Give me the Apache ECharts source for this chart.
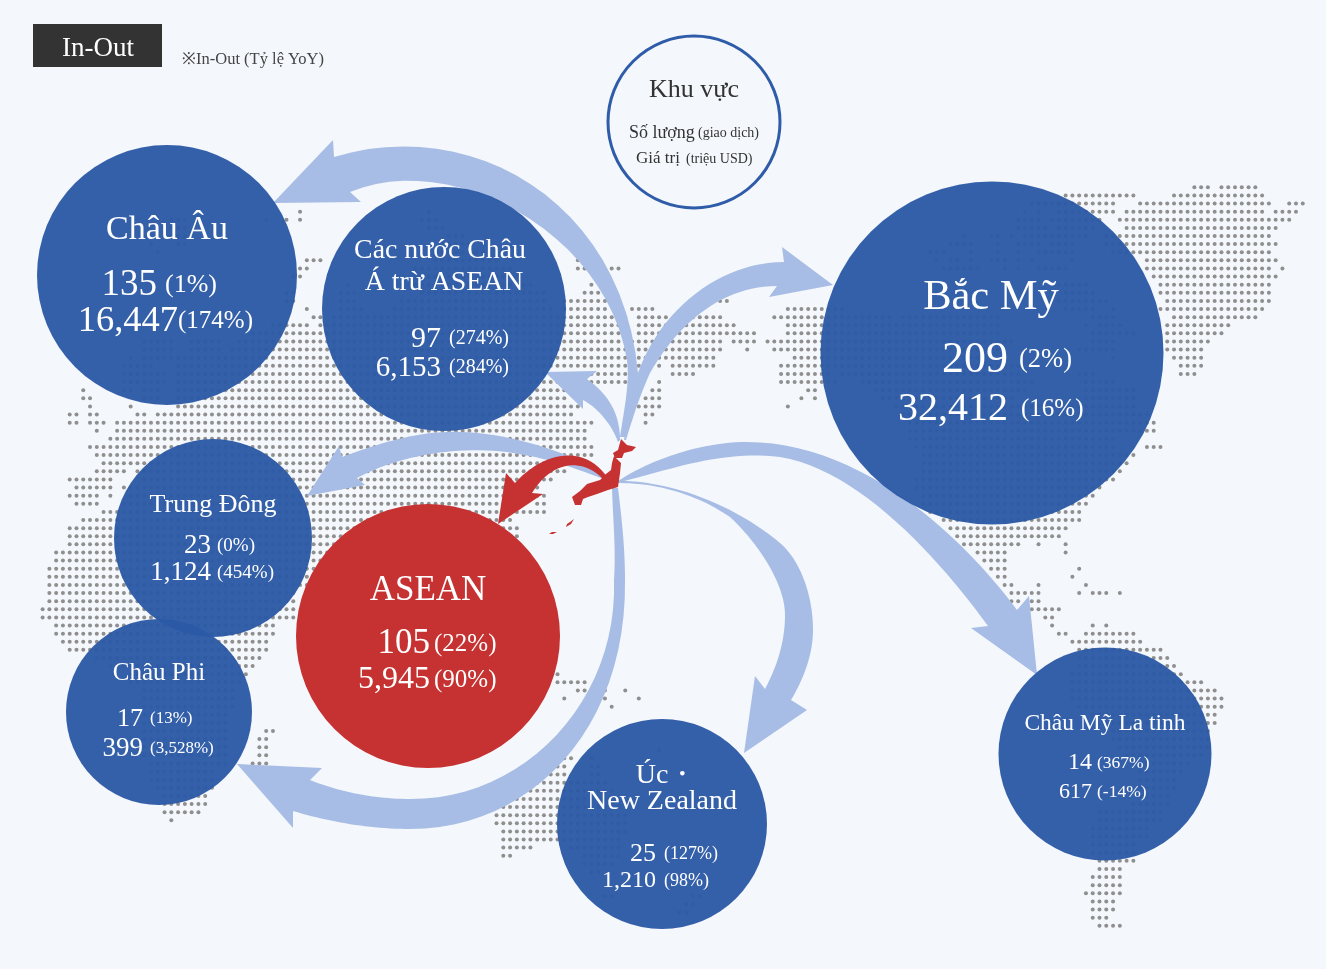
<!DOCTYPE html>
<html><head><meta charset="utf-8">
<style>html,body{margin:0;padding:0;background:#f4f7fb}#c{width:1326px;height:969px}</style>
<script src="https://cdn.jsdelivr.net/npm/echarts@6/dist/echarts.min.js"></script>
</head><body><div id="c"></div>
<script>
// ---------- values ----------
const regionNames = [['Châu Âu'],['Các nước Châu','Á trừ ASEAN'],['Bắc Mỹ'],['Trung Đông'],['Châu Phi'],['ASEAN'],['Úc・','New Zealand'],['Châu Mỹ La tinh']];
const dealCounts  = [135,97,209,23,17,105,25,14];
const dealValues  = [16447,6153,32412,1124,399,5945,1210,617];
const countChange = [1,274,2,0,13,22,127,367];
const valueChange = [174,284,16,454,3528,90,98,-14];
// ---------- layout ----------
const bubbleX = [167,444,992,213,159,428,662,1105];
const bubbleY = [275,309,353,538,712,636,824,754];
const bubbleD = [260,244,343,198,186,264,210,213];
const bubbleFill = ['#2c5aa5','#2c5aa5','#2c5aa5','#2c5aa5','#2c5aa5','#c63131','#2c5aa5','#2c5aa5'];
// title lines: [centerX, centerY, size]
const titleLayout = [[[167,230,34]],[[440,251,27.8],[444,283,27.8]],[[991,298,42.5]],[[213,505,26]],[[159,673,25]],[[428,591,35]],[[666,776,28],[662,802,28]],[[1105,724,23.5]]];
// number line: [rightX, y, numSize, pctX, pctSize]
const countLayout = [[157,285,37,165,26],[441,339,30,449,20],[1008,360,44,1019,26.5],[211,546,27,217,19],[143,719,26,150,17],[430,644,35,434,25],[656,854,26,664,18],[1092,763,24,1097,17.5]];
const valueLayout = [[178,321,36.5,178,25],[441,368,29,449,20],[1008,409,40,1021,25],[211,573,27,217,19],[143,749,27,150,17],[430,680,32,434,25],[656,881,24,664,18],[1092,792,22,1097,17.5]];
// dotted world map: per grid row, pairs of from/to
const dotGrid = {x0:42.6, dx:6.775, y0:187.3, dy:8.115};
const landRuns = [
[1195,1208,1222,1257],
[1066,1135,1174,1263],
[1032,1115,1140,1270,1290,1305],
[301,301,430,430,1027,1027,1040,1040,1060,1115,1127,1263,1277,1298],
[173,187,267,267,287,287,301,301,422,437,1020,1040,1053,1102,1120,1292],
[167,187,430,443,1020,1047,1060,1095,1127,1277],
[167,187,450,463,963,963,993,1000,1013,1013,1027,1047,1053,1088,1107,1270],
[152,152,178,187,443,470,950,967,973,973,997,997,1020,1040,1053,1075,1107,1277],
[158,158,437,483,930,947,972,972,998,998,1020,1020,1040,1075,1113,1270],
[307,323,437,497,578,578,937,937,950,960,973,973,993,1006,1020,1020,1033,1033,1073,1073,1147,1277],
[300,310,417,513,578,585,612,620,943,980,1007,1007,1020,1020,1040,1068,1147,1270,1283,1283],
[293,302,430,520,1153,1277],
[347,347,400,530,592,592,1060,1083,1160,1270],
[287,293,340,353,420,547,585,598,1067,1090,1160,1270],
[287,293,340,353,400,547,565,606,720,727,1060,1103,1167,1270],
[308,308,340,360,395,550,563,606,633,653,788,843,1067,1090,1113,1113,1160,1263],
[313,320,333,627,640,667,693,720,775,890,900,1000,1093,1110,1173,1257],
[273,310,320,627,640,733,785,1000,1087,1087,1100,1123,1167,1230],
[255,627,640,753,788,1000,1093,1135,1167,1223],
[145,173,192,220,240,720,733,753,768,1010,1093,1115,1167,1210],
[145,173,192,220,233,717,747,747,775,785,795,1000,1080,1115,1167,1203],
[132,132,147,173,178,715,795,1000,1113,1113,1173,1203],
[125,153,178,627,640,640,660,660,673,710,782,1020,1180,1203],
[125,167,178,627,673,693,782,830,842,1020,1080,1095,1180,1197],
[125,167,178,625,660,660,782,832,863,1030,1085,1110],
[85,85,125,133,147,160,178,563,653,660,808,818,877,1025,1085,1130],
[85,92,145,160,178,563,645,660,803,803,817,817,883,1010,1085,1135],
[92,92,132,132,178,577,640,660,790,790,893,1135],
[70,78,90,98,138,147,158,573,647,653,900,1150],
[70,78,90,105,118,593,647,647,910,1155],
[98,98,118,587,910,1155],
[112,587,910,917,923,1115],
[92,593,917,917,923,1115,1147,1163],
[98,593,923,1135],
[105,567,923,1128],
[98,127,140,567,923,1120],
[70,113,143,553,917,1110],
[77,107,127,540,917,1100],
[70,100,112,112,133,500,537,547,923,1095],
[77,100,127,500,537,547,923,1087],
[105,545,930,1080],
[83,513,943,1082],
[70,520,952,1068],
[70,517,960,1062],
[70,350,967,1020,1040,1040,1067,1067],
[57,350,978,1007,1067,1067],
[57,350,985,1007],
[50,320,992,1007,1081,1081],
[50,310,998,1007,1074,1074],
[50,305,1005,1013,1040,1040,1087,1087],
[50,290,1012,1040,1081,1081,1094,1108,1121,1121],
[50,290,1012,1020,1032,1040],
[43,290,1033,1060],
[43,290,1047,1053],
[57,273,1053,1053,1094,1094,1108,1108],
[57,273,1060,1067,1088,1135],
[63,268,1073,1142],
[70,80,90,268,1080,1162],
[100,260,1080,1168],
[110,253,1080,1175],
[130,245,558,558,1073,1182],
[130,240,558,585,1073,1203],
[143,235,578,605,626,626,1073,1217],
[143,235,565,565,598,605,639,639,1073,1223],
[143,230,612,612,1080,1223],
[143,225,1093,1217],
[143,225,1107,1217],
[143,225,267,275,1113,1210],
[143,225,260,268,1113,1210],
[143,225,260,268,1120,1210],
[143,225,260,268,1127,1203],
[150,225,253,268,1133,1190],
[150,215,1140,1183],
[150,215,1140,1177],
[157,213,1140,1177],
[162,208,1140,1170],
[165,208,1133,1170],
[165,200,1100,1163],
[172,172,1100,1163],
[1093,1150],
[1093,1150],
[1093,1130],
[1093,1130],
[1100,1130],
[1100,1123],
[1093,1117],
[1093,1117],
[1087,1117],
[1093,1110],
[1093,1110],
[1093,1103],
[1100,1117]
];
// Oceania block sits 3px lower than the rest of the grid; starts at row 69
const oceaniaStartRow = 69, oceaniaShift = 3;
const oceaniaRuns = [
[660,660],[563,573,592,592],[557,567,592,600],[550,567,592,600],[537,607],[530,613],[517,620],[497,620],[497,627],[497,627],[503,627],[503,620],[503,533,570,620],[503,513,583,620],[583,613],[592,600],[],[707,707],[607,613,693,700],[687,693],[680,687]
];
// flow arrows: edge a (tail to head), head points, edge b (head to tail); edges are cubic chains P,c,c,P,c,c,P
const blueArrows = [
 {a:[[626,437],[632,415],[637,395],[638,373],[622,200],[470,115],[334,157]], h:[[333,140],[273,203],[361,202]], b:[[350,192],[450,150],[605,230],[627,360],[630,385],[623,415],[620,437]]},
 {a:[[624,440],[628,415],[633,393],[638,373],[660,310],[720,262],[784,262]], h:[[782,247],[833,285],[769,297]], b:[[777,286],[725,286],[680,320],[650,373],[640,395],[632,420],[626,440]]},
 {a:[[620,440],[620,410],[605,392],[587,379]], h:[[597,371],[545,372],[583,409]], b:[[583,400],[598,408],[612,425],[618,442]]},
 {a:[[618,482],[570,450],[500,430],[447,432],[410,433],[375,445],[342,457]], h:[[339,446],[307,496],[365,485]], b:[[357,478],[400,455],[460,445],[513,453],[560,460],[590,475],[618,484]]},
 {a:[[618,488],[622,520],[625,550],[625,580],[627,730],[530,829],[410,829],[370,829],[330,822],[293,811]], h:[[293,828],[237,764],[322,768]], b:[[310,780],[340,792],[375,799],[410,799],[525,800],[618,700],[614,580],[616,550],[613,520],[612,488]]},
 {a:[[617,481],[670,480],[735,505],[780,543],[800,560],[813,595],[813,630],[813,655],[803,680],[791,700]], h:[[807,710],[744,753],[755,676]], b:[[765,689],[775,670],[785,645],[785,615],[785,585],[760,545],[730,517],[690,490],[650,483],[617,483]]},
 {a:[[618,481],[650,460],[700,442],[747,442],[850,442],[950,520],[1017,610]], h:[[1029,596],[1037,675],[971,628]], b:[[988,626],[940,560],[860,470],[780,457],[720,450],[670,470],[620,482]]}
];
const redArrow = {a:[[607,477],[585,445],[545,450],[515,483]], h:[[506,473],[498,524],[543,494]], b:[[532,493],[555,455],[590,460],[607,484]]};
const japanParts = [
 [[621,439],[627,445],[636,447],[632,451],[624,453],[622,458],[615,458],[613,453],[618,450]],
 [[614,456],[621,463],[620,473],[618,487],[608,490],[597,494],[588,497],[583,499],[581,505],[575,505],[572,497],[580,491],[587,484],[600,480],[606,474],[611,470],[612,463]],
 [[574,519],[571,524],[566,527],[567,524],[570,522]],[[557,532],[553,534],[549,534],[552,532]]
];
const headerBox = [33,24,129,43];
const extraTexts = [
 ['In-Out',98,49,27,'#ffffff','center'],
 ['※In-Out (Tỷ lệ YoY)',182,60,16.5,'#444444','left'],
 ['Khu vực',694,90,26,'#333333','center'],
 ['Số lượng',629,133,18,'#333333','left'],
 ['(giao dịch)',698,133,14,'#333333','left'],
 ['Giá trị',636,159,17,'#333333','left'],
 ['(triệu USD)',686,159,14,'#333333','left']
];
const legendRing = [694,122,172];
// ---------- builders ----------
const FONT = '"Liberation Serif","DejaVu Serif",serif';
function chain(p){
  const out=[];
  for(let i=0;i+3<p.length;i+=3){
    for(let s=0;s<24;s++){
      const t=s/24,u=1-t;
      out.push([0,1].map(k=>u*u*u*p[i][k]+3*u*u*t*p[i+1][k]+3*u*t*t*p[i+2][k]+t*t*t*p[i+3][k]));
    }
  }
  out.push(p[p.length-1]); return out;
}
const arrowPoly = s => chain(s.a).concat(s.h, chain(s.b));
function gridDots(runs,startRow,shift){
  const d=[];
  runs.forEach((r,j)=>{
    for(let k=0;k<r.length;k+=2){
      const i0=Math.round((r[k]-dotGrid.x0)/dotGrid.dx), i1=Math.round((r[k+1]-dotGrid.x0)/dotGrid.dx);
      for(let i=i0;i<=i1;i++) d.push([dotGrid.x0+i*dotGrid.dx, dotGrid.y0+(j+startRow)*dotGrid.dy+shift]);
    }
  });
  return d;
}
const dots = gridDots(landRuns,0,0).concat(gridDots(oceaniaRuns,oceaniaStartRow,oceaniaShift));
const textItems=[];
regionNames.forEach((lines,i)=>{
  lines.forEach((t,l)=>{const q=titleLayout[i][l];textItems.push([t,q[0],q[1],q[2],'#ffffff','center']);});
  const c=countLayout[i],v=valueLayout[i];
  textItems.push([dealCounts[i].toLocaleString('en-US'),c[0],c[1],c[2],'#ffffff','right']);
  textItems.push(['('+countChange[i].toLocaleString('en-US')+'%)',c[3],c[1],c[4],'#ffffff','left']);
  textItems.push([dealValues[i].toLocaleString('en-US'),v[0],v[1],v[2],'#ffffff','right']);
  textItems.push(['('+valueChange[i].toLocaleString('en-US')+'%)',v[3],v[1],v[4],'#ffffff','left']);
});
const allTexts = extraTexts.concat(textItems);
function polySeries(polys,color,z){
  return {type:'custom',coordinateSystem:'cartesian2d',z,silent:true,clip:false,
    data:polys.map((_,i)=>[i,0]),
    encode:{x:0,y:1},
    renderItem:(params,api)=>({type:'polygon',shape:{points:polys[params.dataIndex].map(p=>api.coord(p))},style:{fill:color}})};
}
const chart=echarts.init(document.getElementById('c'),null,{renderer:'canvas'});
chart.setOption({
  animation:false,backgroundColor:'#f4f7fb',
  grid:{left:0,right:0,top:0,bottom:0},
  xAxis:{type:'value',min:0,max:1326,show:false},
  yAxis:{type:'value',min:0,max:969,inverse:true,show:false},
  tooltip:{show:false},
  series:[
    {type:'scatter',z:1,silent:true,data:dots,symbol:'circle',symbolSize:4,itemStyle:{color:'#8f8f8f',opacity:1},progressive:0,large:false},
    polySeries(blueArrows.map(arrowPoly),'#a7bde5',2),
    {type:'scatter',z:3,silent:true,progressive:0,data:bubbleX.map((x,i)=>({value:[x,bubbleY[i]],symbolSize:bubbleD[i],itemStyle:{color:bubbleFill[i],opacity:bubbleFill[i]==='#c63131'?1:0.96}}))},
    {type:'scatter',z:3,silent:true,data:[[legendRing[0],legendRing[1]]],symbolSize:legendRing[2],itemStyle:{color:'rgba(0,0,0,0)',borderColor:'#2f5ca8',borderWidth:3,opacity:1}},
    polySeries([arrowPoly(redArrow)].concat(japanParts),'#c63131',4),
    {type:'custom',coordinateSystem:'cartesian2d',z:5,silent:true,clip:false,data:[[headerBox[0],headerBox[1]]],encode:{x:0,y:1},
      renderItem:(p,api)=>{const a=api.coord([headerBox[0],headerBox[1]]),b=api.coord([headerBox[0]+headerBox[2],headerBox[1]+headerBox[3]]);
        return {type:'rect',shape:{x:a[0],y:a[1],width:b[0]-a[0],height:b[1]-a[1]},style:{fill:'#333333'}};}},
    {type:'custom',coordinateSystem:'cartesian2d',z:6,silent:true,clip:false,data:allTexts.map(t=>[t[1],t[2]]),encode:{x:0,y:1},
      renderItem:(p,api)=>{const t=allTexts[p.dataIndex],c=api.coord([t[1],t[2]]);
        return {type:'text',x:c[0],y:c[1],style:{text:t[0],fill:t[4],fontSize:t[3],fontFamily:FONT,align:t[5],verticalAlign:'middle'}};}}
  ]
});
</script></body></html>
